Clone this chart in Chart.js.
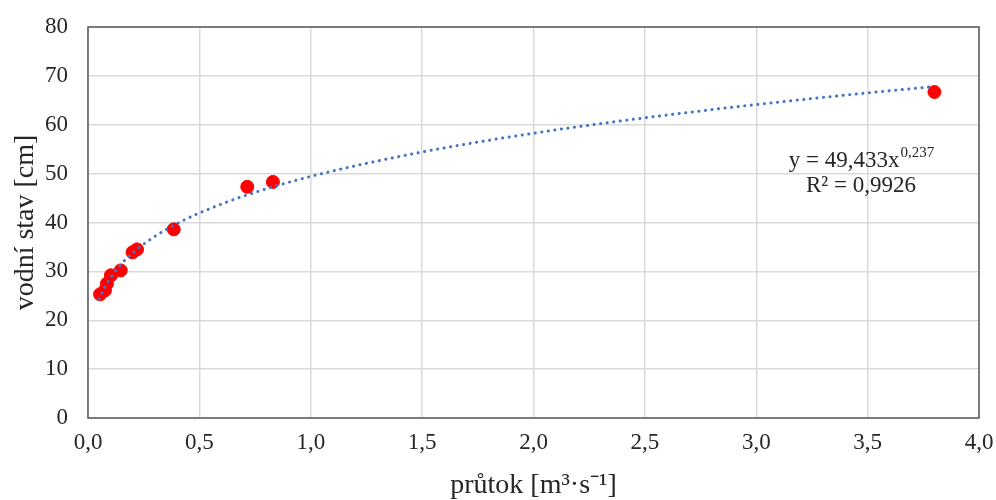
<!DOCTYPE html>
<html lang="cs">
<head>
<meta charset="utf-8">
<script src="https://cdn.jsdelivr.net/npm/chart.js@4/dist/chart.umd.min.js"></script>
<style>
  html, body { margin: 0; padding: 0; background: #fff; }
  #wrap { width: 996px; height: 500px; }
</style>
</head>
<body>
<div id="wrap"><canvas id="rating"></canvas></div>
<script>
// measured points: discharge [m3/s] vs. water level [cm]
const flowX = [0.054, 0.076, 0.085, 0.103, 0.147, 0.20, 0.22, 0.385, 0.715, 0.83, 3.80];
const stageY = [25.3, 26.1, 27.5, 29.2, 30.2, 33.9, 34.5, 38.6, 47.3, 48.3, 66.7];

// power trendline y = 49,433 x^0,237 sampled along the flow range
const trendX = [0.05, 0.07, 0.1, 0.15, 0.2, 0.3, 0.4, 0.5, 0.7, 1.0, 1.5, 2.0, 2.5, 3.0, 3.5, 3.8];
const trendY = [24.30, 26.32, 28.64, 31.53, 33.76, 37.16, 39.78, 41.94, 45.42, 49.43, 54.42, 58.26, 61.42, 64.13, 66.52, 67.83];

const eqMain = "y = 49,433x";
const eqPower = "0,237";
const eqR2 = "R² = 0,9926";

const xTicks = [0, 0.5, 1, 1.5, 2, 2.5, 3, 3.5, 4];
const yTicks = [0, 10, 20, 30, 40, 50, 60, 70, 80];

const serif = "'Liberation Serif', 'Times New Roman', serif";
const ink = "#262626";

const toPts = (xs, ys) => xs.map((x, i) => ({ x: x, y: ys[i] }));

// frame around the plot area and the equation text
const framePlugin = {
  id: "frame",
  afterDraw(chart) {
    const { ctx, chartArea: a, scales } = chart;
    ctx.save();
    ctx.strokeStyle = "#595959";
    ctx.lineWidth = 1.5;
    ctx.strokeRect(a.left, a.top, a.right - a.left, a.bottom - a.top);

    const cx = scales.x.getPixelForValue(3.47);
    const y1 = scales.y.getPixelForValue(52.6);
    const y2 = scales.y.getPixelForValue(47.5);
    ctx.fillStyle = ink;
    ctx.textBaseline = "middle";
    ctx.font = "23px " + serif;
    const wMain = ctx.measureText(eqMain).width;
    ctx.font = "15px " + serif;
    const wPow = ctx.measureText(eqPower).width;
    const start = cx - (wMain + wPow) / 2;
    ctx.textAlign = "left";
    ctx.font = "23px " + serif;
    ctx.fillText(eqMain, start, y1);
    ctx.font = "15px " + serif;
    ctx.fillText(eqPower, start + wMain + 1, y1 - 8);
    ctx.font = "23px " + serif;
    ctx.textAlign = "center";
    ctx.fillText(eqR2, cx, y2);
    ctx.restore();
  }
};

const ctx = document.getElementById("rating").getContext("2d");
new Chart(ctx, {
  type: "scatter",
  data: {
    datasets: [
      {
        label: "trend",
        type: "line",
        data: toPts(trendX, trendY),
        borderColor: "#4472C4",
        borderWidth: 3,
        borderDash: [0.1, 6.5],
        borderCapStyle: "round",
        pointRadius: 0,
        cubicInterpolationMode: "monotone",
        fill: false
      },
      {
        label: "vodní stav",
        data: toPts(flowX, stageY),
        backgroundColor: "#FF0000",
        borderColor: "#FF0000",
        pointRadius: 6.5,
        pointHoverRadius: 6.5
      }
    ]
  },
  options: {
    responsive: true,
    maintainAspectRatio: false,
    animation: false,
    layout: { padding: { top: 27, right: 17, left: 0, bottom: 0 } },
    plugins: {
      legend: { display: false },
      tooltip: { enabled: false }
    },
    scales: {
      x: {
        type: "linear",
        min: 0,
        max: 4,
        afterBuildTicks: s => { s.ticks = xTicks.map(v => ({ value: v })); },
        afterFit: s => { s.height = 82; s.paddingLeft = 0; s.paddingRight = 0; },
        grid: { color: "#d9d9d9", lineWidth: 1.5, drawTicks: false },
        border: { display: false },
        ticks: {
          color: ink,
          padding: 11,
          font: { family: serif, size: 23 },
          callback: v => v.toFixed(1).replace(".", ","),
          maxRotation: 0
        },
        title: {
          display: true,
          text: "průtok [m³·s⁻¹]",
          color: ink,
          font: { family: serif, size: 28, lineHeight: 1 },
          padding: { top: 0, bottom: 0 }
        }
      },
      y: {
        min: 0,
        max: 80,
        afterBuildTicks: s => { s.ticks = yTicks.map(v => ({ value: v })); },
        afterFit: s => { s.width = 88; s.paddingTop = 0; s.paddingBottom = 0; },
        grid: { color: "#d9d9d9", lineWidth: 1.5, drawTicks: false },
        border: { display: false },
        ticks: {
          color: ink,
          padding: 20,
          font: { family: serif, size: 23 }
        },
        title: {
          display: true,
          text: "vodní stav [cm]",
          color: ink,
          font: { family: serif, size: 28, lineHeight: 1 },
          padding: { top: 12, bottom: 0 }
        }
      }
    }
  },
  plugins: [framePlugin]
});
</script>
</body>
</html>
